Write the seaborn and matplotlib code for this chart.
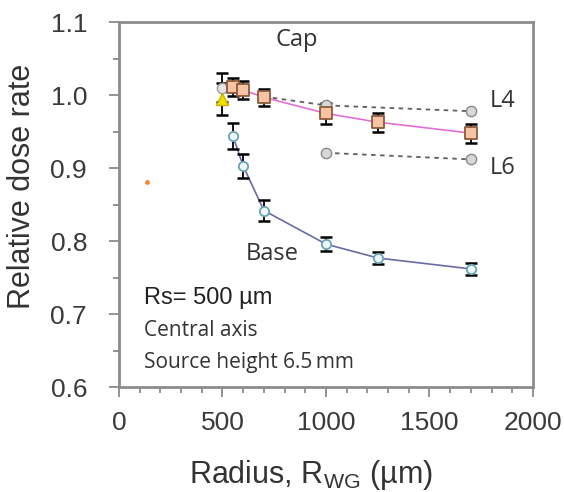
import matplotlib
matplotlib.use('Agg')
import matplotlib.pyplot as plt
from matplotlib.ticker import MultipleLocator, FormatStrFormatter
import pandas as pd
import seaborn as sns

# Base (central axis, bottom)
base_x = [500, 550, 600, 700, 1000, 1250, 1700]
base_y = [1.010, 0.944, 0.903, 0.842, 0.796, 0.777, 0.762]
base_err = [0.020, 0.018, 0.016, 0.014, 0.010, 0.008, 0.008]

# Cap
cap_x = [550, 600, 700, 1000, 1250, 1700]
cap_y = [1.011, 1.007, 0.997, 0.975, 0.963, 0.948]
cap_err = [0.012, 0.012, 0.012, 0.014, 0.013, 0.013]

# reference point at source radius
ref_x = [500]
ref_y = [0.995]
ref_err = [0.022]

# L4 / L6 layers
l4_x = [700, 1000, 1700]
l4_y = [0.998, 0.986, 0.978]
l6_x = [1000, 1700]
l6_y = [0.921, 0.912]

stray_x = [135]
stray_y = [0.881]

sns.set_style('white')
plt.rcParams['font.family'] = ['Liberation Sans', 'DejaVu Sans']

fig = plt.figure(figsize=(5.64, 4.92), dpi=100)
ax = fig.add_axes([0.211, 0.213, 0.734, 0.742])

base_df = pd.DataFrame({'x': base_x, 'y': base_y})
cap_df = pd.DataFrame({'x': cap_x, 'y': cap_y})
l4_df = pd.DataFrame({'x': l4_x, 'y': l4_y})
l6_df = pd.DataFrame({'x': l6_x, 'y': l6_y})

# connecting lines
sns.lineplot(data=base_df.iloc[1:], x='x', y='y', ax=ax, color='#6a6aa8', lw=1.2)
sns.lineplot(data=cap_df, x='x', y='y', ax=ax, color='#e070d8', lw=1.2)
sns.lineplot(data=l4_df, x='x', y='y', ax=ax, color='#606060', lw=1.3, linestyle=(0, (2.5, 2.5)))
sns.lineplot(data=l6_df, x='x', y='y', ax=ax, color='#606060', lw=1.3, linestyle=(0, (2.5, 2.5)))

# error bars
for xs, ys, es in [(base_x, base_y, base_err), (cap_x, cap_y, cap_err), (ref_x, ref_y, ref_err)]:
    ax.errorbar(xs, ys, yerr=es, fmt='none', ecolor='black', elinewidth=1.3,
                capsize=4, capthick=1.8, zorder=3)

# markers
ax.scatter(base_x[1:], base_y[1:], s=45, marker='o', facecolor='#eef6f8', edgecolor='#6aa4b4', lw=1.3, zorder=4)
ax.scatter(base_x[:1], base_y[:1], s=55, marker='o', facecolor='#e4e4e4', edgecolor='#9a9a9a', lw=1.0, zorder=4)
ax.scatter(ref_x, ref_y, s=75, marker='^', facecolor='#f0e000', edgecolor='#c8b400', lw=1.0, zorder=5)
ax.scatter(l4_x, l4_y, s=55, marker='o', facecolor='#d8d8d8', edgecolor='#8a8a8a', lw=1.0, zorder=4)
ax.scatter(l6_x, l6_y, s=55, marker='o', facecolor='#d8d8d8', edgecolor='#8a8a8a', lw=1.0, zorder=4)
ax.scatter(cap_x, cap_y, s=80, marker='s', facecolor='#f6c4a4', edgecolor='#8a5a3a', lw=1.3, zorder=6)
ax.scatter(stray_x, stray_y, s=6, marker='o', color='#f08a30', zorder=4)

ax.set_xlim(0, 2000)
ax.set_ylim(0.6, 1.1)
ax.xaxis.set_major_locator(MultipleLocator(500))
ax.xaxis.set_minor_locator(MultipleLocator(100))
ax.yaxis.set_major_locator(MultipleLocator(0.1))
ax.yaxis.set_minor_locator(MultipleLocator(0.05))
ax.yaxis.set_major_formatter(FormatStrFormatter('%.1f'))
ax.tick_params(axis='both', which='both', direction='out', color='#808080', width=1.2,
               bottom=True, left=True, labelsize=19, labelcolor='#3a3a3a')
ax.tick_params(axis='both', which='major', length=7)
ax.tick_params(axis='both', which='minor', length=4)
ax.tick_params(axis='x', which='major', pad=10)
ax.tick_params(axis='y', which='major', pad=16)
for sp in ax.spines.values():
    sp.set_color('#8c8c8c')
    sp.set_linewidth(2.0)

ax.set_xlabel('Radius, R$_{\\mathregular{WG}}$ (\u00b5m)', fontsize=22, color='#333333', va='center')
ax.set_ylabel('Relative dose rate', fontsize=22, color='#333333', va='center')
ax.xaxis.set_label_coords(0.464, -0.24)
ax.yaxis.set_label_coords(-0.234, 0.55)

anno_font = ['Open Sans', 'DejaVu Sans']
ax.text(860, 1.075, 'Cap', fontsize=17, family=anno_font, color='#333333', ha='center', va='center')
ax.text(1790, 0.992, 'L4', fontsize=17, family=anno_font, color='#333333', ha='left', va='center')
ax.text(1790, 0.900, 'L6', fontsize=17, family=anno_font, color='#333333', ha='left', va='center')
ax.text(740, 0.783, 'Base', fontsize=17, family=anno_font, color='#333333', ha='center', va='center')
ax.text(120, 0.722, 'Rs= 500 \u00b5m', fontsize=17, color='#222222', ha='left', va='center')
ax.text(120, 0.678, 'Central axis', fontsize=15, family=anno_font, color='#333333', ha='left', va='center')
ax.text(120, 0.634, 'Source height 6.5\u2009mm', fontsize=15, family=anno_font, color='#333333', ha='left', va='center')

fig.savefig('out.png', dpi=100)
